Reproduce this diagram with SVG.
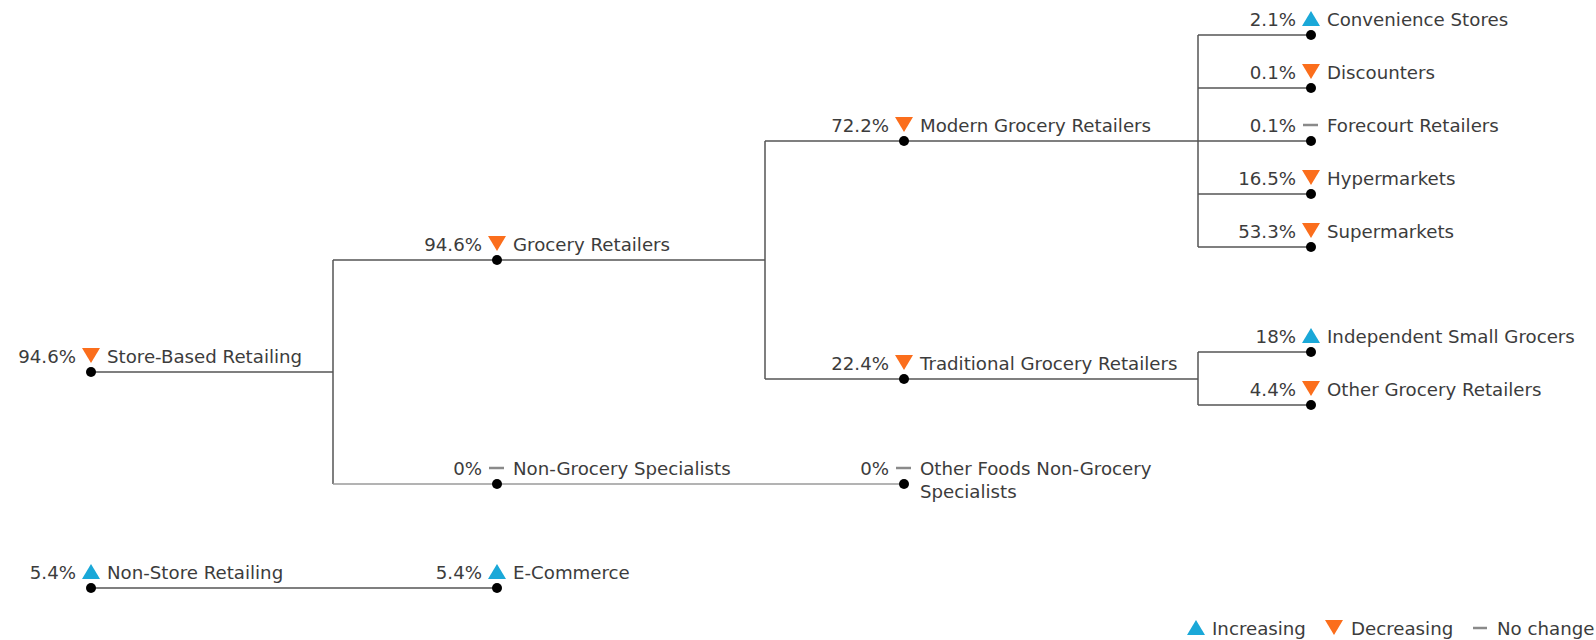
<svg xmlns="http://www.w3.org/2000/svg" width="1596" height="640" viewBox="0 0 1596 640">
<style>
text{font-family:"DejaVu Sans",Verdana,sans-serif;font-size:18.2px;fill:#3c3c3c}
.p{text-anchor:end}
.c{fill:none;stroke:#555;stroke-width:1.5}
.z{fill:none;stroke:#9a9a9a;stroke-width:1.5}
.dot{fill:#000}
.up{fill:#1aa8d8}
.dn{fill:#fb6e1c}
.nc{stroke:#8a8a8a;stroke-width:2.5}
</style>
<defs>
<path id="tu" d="M0,-24 L9,-9 L-9,-9 Z"/>
<path id="td" d="M-9,-24 L9,-24 L0,-9 Z"/>
</defs>
<rect width="1596" height="640" fill="#fff"/>
<g id="connectors">
<path class="c" d="M91,372 H333 M333,260 V484 M333,260 H497"/>
<path class="z" d="M333,484 H497 M497,484 H904"/>
<path class="c" d="M497,260 H765 M765,141 V379 M765,141 H904 M765,379 H904"/>
<path class="c" d="M904,141 H1311 M1198,35 V247 M1198,35 H1311 M1198,88 H1311 M1198,194 H1311 M1198,247 H1311"/>
<path class="c" d="M904,379 H1198 M1198,352 V405 M1198,352 H1311 M1198,405 H1311"/>
<path class="c" d="M91,588 H497"/>
</g>
<g id="n-store-based" transform="translate(91,372)">
<circle class="dot" r="5"/><use href="#td" class="dn"/>
<text class="p" x="-15" y="-9">94.6%</text><text x="16" y="-9">Store-Based Retailing</text>
</g>
<g id="n-grocery" transform="translate(497,260)">
<circle class="dot" r="5"/><use href="#td" class="dn"/>
<text class="p" x="-15" y="-9">94.6%</text><text x="16" y="-9">Grocery Retailers</text>
</g>
<g id="n-modern" transform="translate(904,141)">
<circle class="dot" r="5"/><use href="#td" class="dn"/>
<text class="p" x="-15" y="-9">72.2%</text><text x="16" y="-9">Modern Grocery Retailers</text>
</g>
<g id="n-traditional" transform="translate(904,379)">
<circle class="dot" r="5"/><use href="#td" class="dn"/>
<text class="p" x="-15" y="-9">22.4%</text><text x="16" y="-9">Traditional Grocery Retailers</text>
</g>
<g id="n-convenience" transform="translate(1311,35)">
<circle class="dot" r="5"/><use href="#tu" class="up"/>
<text class="p" x="-15" y="-9">2.1%</text><text x="16" y="-9">Convenience Stores</text>
</g>
<g id="n-discounters" transform="translate(1311,88)">
<circle class="dot" r="5"/><use href="#td" class="dn"/>
<text class="p" x="-15" y="-9">0.1%</text><text x="16" y="-9">Discounters</text>
</g>
<g id="n-forecourt" transform="translate(1311,141)">
<circle class="dot" r="5"/><line class="nc" x1="-8" y1="-16" x2="7" y2="-16"/>
<text class="p" x="-15" y="-9">0.1%</text><text x="16" y="-9">Forecourt Retailers</text>
</g>
<g id="n-hyper" transform="translate(1311,194)">
<circle class="dot" r="5"/><use href="#td" class="dn"/>
<text class="p" x="-15" y="-9">16.5%</text><text x="16" y="-9">Hypermarkets</text>
</g>
<g id="n-super" transform="translate(1311,247)">
<circle class="dot" r="5"/><use href="#td" class="dn"/>
<text class="p" x="-15" y="-9">53.3%</text><text x="16" y="-9">Supermarkets</text>
</g>
<g id="n-independent" transform="translate(1311,352)">
<circle class="dot" r="5"/><use href="#tu" class="up"/>
<text class="p" x="-15" y="-9">18%</text><text x="16" y="-9">Independent Small Grocers</text>
</g>
<g id="n-other-grocery" transform="translate(1311,405)">
<circle class="dot" r="5"/><use href="#td" class="dn"/>
<text class="p" x="-15" y="-9">4.4%</text><text x="16" y="-9">Other Grocery Retailers</text>
</g>
<g id="n-non-grocery" transform="translate(497,484)">
<circle class="dot" r="5"/><line class="nc" x1="-8" y1="-16" x2="7" y2="-16"/>
<text class="p" x="-15" y="-9">0%</text><text x="16" y="-9">Non-Grocery Specialists</text>
</g>
<g id="n-other-foods" transform="translate(904,484)">
<circle class="dot" r="5"/><line class="nc" x1="-8" y1="-16" x2="7" y2="-16"/>
<text class="p" x="-15" y="-9">0%</text><text x="16" y="-9">Other Foods Non-Grocery</text><text x="16" y="14">Specialists</text>
</g>
<g id="n-non-store" transform="translate(91,588)">
<circle class="dot" r="5"/><use href="#tu" class="up"/>
<text class="p" x="-15" y="-9">5.4%</text><text x="16" y="-9">Non-Store Retailing</text>
</g>
<g id="n-ecommerce" transform="translate(497,588)">
<circle class="dot" r="5"/><use href="#tu" class="up"/>
<text class="p" x="-15" y="-9">5.4%</text><text x="16" y="-9">E-Commerce</text>
</g>
<g id="legend">
<use href="#tu" class="up" transform="translate(1196,644)"/>
<text x="1212" y="635">Increasing</text>
<use href="#td" class="dn" transform="translate(1334,644)"/>
<text x="1351" y="635">Decreasing</text>
<line class="nc" x1="1473" y1="628" x2="1487" y2="628"/>
<text x="1497" y="635">No change</text>
</g>
</svg>
